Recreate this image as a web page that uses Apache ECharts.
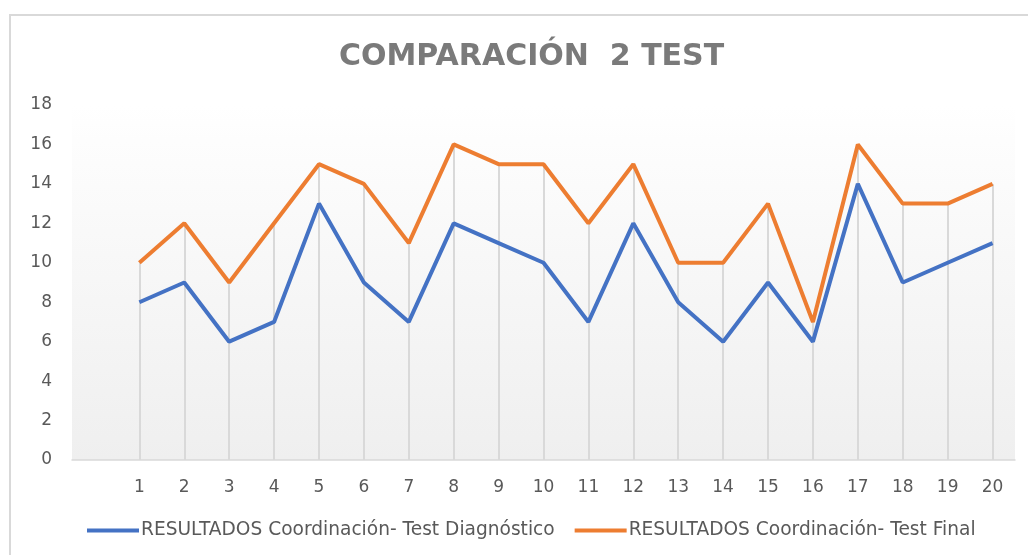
<!DOCTYPE html>
<html>
<head>
<meta charset="utf-8">
<script src="https://cdn.jsdelivr.net/npm/echarts@6/dist/echarts.min.js"></script>
<style>
  html, body { margin: 0; padding: 0; background: #ffffff; }
  #chart { width: 1028px; height: 555px; }
</style>
</head>
<body>
<div id="chart"></div>
<script>
// Test numbers (first slot is an empty category that pads the axis on the left)
const categories = ['', '1', '2', '3', '4', '5', '6', '7', '8', '9', '10',
  '11', '12', '13', '14', '15', '16', '17', '18', '19', '20'];
const diagnostico = [null, 8, 9, 6, 7, 13, 9, 7, 12, 11, 10, 7, 12, 8, 6, 9, 6, 14, 9, 10, 11];
const final = [null, 10, 12, 9, 12, 15, 14, 11, 16, 15, 15, 12, 15, 10, 10, 13, 7, 16, 13, 13, 14];
const yTicks = { min: 0, max: 18, step: 2 };
const seriesNames = [
  'RESULTADOS Coordinación- Test Diagnóstico',
  'RESULTADOS Coordinación- Test Final'
];

// Drop lines from the higher of the two series down to the axis
const dropLines = categories.map((c, i) => {
  const a = diagnostico[i], b = final[i];
  if (a == null && b == null) return null;
  return [{ coord: [c, 0] }, { coord: [c, Math.max(a ?? -Infinity, b ?? -Infinity)] }];
}).filter(Boolean);

const textColor = '#595959';
const font = '"DejaVu Sans", "Open Sans", sans-serif';
const chart = echarts.init(document.getElementById('chart'), null, { renderer: 'canvas' });

chart.setOption({
  animation: false,
  backgroundColor: '#ffffff',
  graphic: [{
    type: 'rect',
    shape: { x: 10, y: 15, width: 1040, height: 560 },
    style: { fill: 'none', stroke: '#d9d9d9', lineWidth: 2 },
    silent: true
  }],
  title: {
    text: 'COMPARACIÓN  2 TEST',
    left: 334,
    top: 37,
    textStyle: {
      fontFamily: font,
      fontWeight: 'bold',
      fontSize: 30,
      color: '#7a7a7a'
    }
  },
  grid: {
    left: 72, right: 13, top: 105, bottom: 95,
    show: true,
    borderWidth: 0,
    backgroundColor: new echarts.graphic.LinearGradient(0, 0, 0, 1, [
      { offset: 0, color: '#ffffff' },
      { offset: 0.1, color: '#fdfdfd' },
      { offset: 1, color: '#efefef' }
    ])
  },
  legend: {
    bottom: 10,
    left: 82,
    itemGap: 20,
    itemWidth: 52,
    itemHeight: 4,
    icon: 'rect',
    textStyle: {
      fontFamily: font,
      fontSize: 18.6,
      color: textColor,
      padding: [0, 0, 0, -3]
    },
    data: seriesNames
  },
  xAxis: {
    type: 'category',
    data: categories,
    boundaryGap: true,
    axisLine: { show: true, lineStyle: { color: '#d9d9d9', width: 1.5 } },
    axisTick: { show: false },
    splitLine: { show: false },
    axisLabel: {
      color: textColor,
      fontFamily: font,
      fontSize: 17,
      margin: 19,
      interval: 0
    }
  },
  yAxis: {
    type: 'value',
    min: yTicks.min,
    max: yTicks.max,
    interval: yTicks.step,
    axisLine: { show: false },
    axisTick: { show: false },
    splitLine: { show: false },
    axisLabel: {
      color: textColor,
      fontFamily: font,
      fontSize: 17,
      margin: 20
    }
  },
  series: [
    {
      name: seriesNames[0],
      type: 'line',
      data: diagnostico,
      symbol: 'none',
      lineStyle: { color: '#4472c4', width: 4 },
      itemStyle: { color: '#4472c4' },
      z: 3
    },
    {
      name: seriesNames[1],
      type: 'line',
      data: final,
      symbol: 'none',
      lineStyle: { color: '#ed7d31', width: 4 },
      itemStyle: { color: '#ed7d31' },
      z: 2,
      markLine: {
        silent: true,
        symbol: ['none', 'none'],
        label: { show: false },
        lineStyle: { color: '#d9d9d9', width: 2, type: 'solid' },
        z: 1,
        data: dropLines
      }
    }
  ]
});
</script>
</body>
</html>
